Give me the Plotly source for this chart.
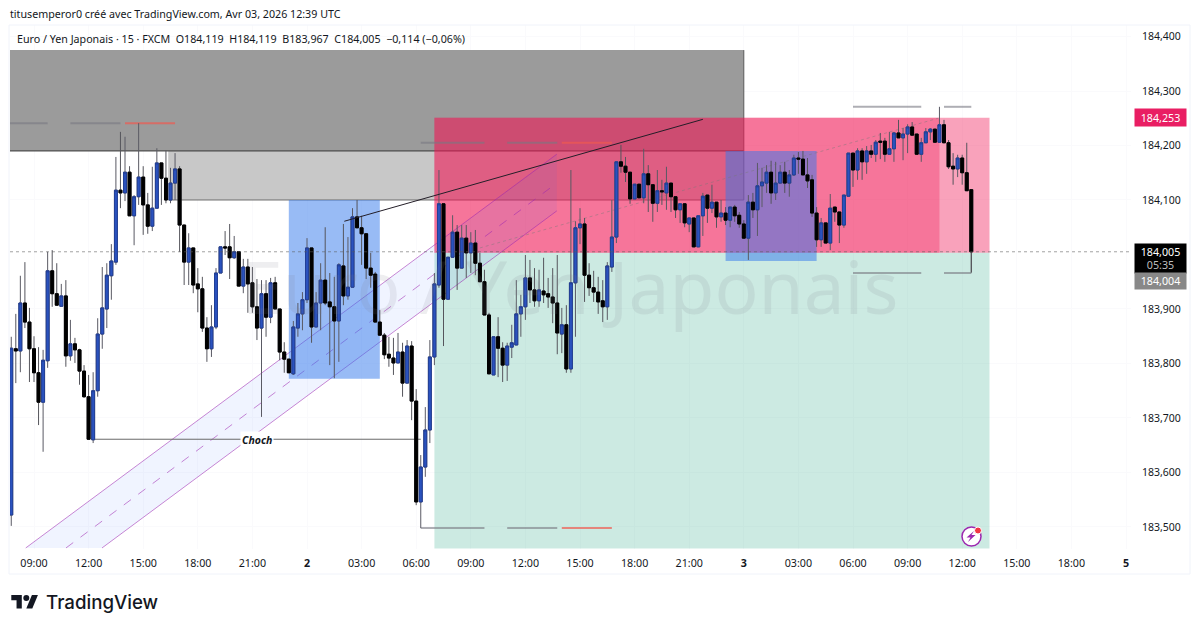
import plotly.graph_objects as go

# bar numbers: 0 is the 09:00 bar of the first day, one bar = 15 min
bars = list(range(-5, 207))

opens = [
    183.522, 183.827, 183.823, 183.911, 183.876,
    183.827, 183.783, 183.729, 183.805, 183.970, 183.928, 183.905, 183.924, 183.814, 183.836,
    183.825, 183.786, 183.739, 183.660, 183.750, 183.854, 183.900, 183.961, 183.986, 184.118,
    184.113, 184.151, 184.071, 184.106, 184.142, 184.091, 184.052, 184.085, 184.168, 184.140,
    184.100, 184.131, 184.157, 184.054, 183.986, 184.012, 183.946, 183.937, 183.865, 183.827,
    183.867, 183.966, 184.014, 184.014, 183.994, 184.005, 183.942, 183.977, 183.948, 183.904,
    183.865, 183.928, 183.885, 183.948, 183.900, 183.821, 183.808, 183.781, 183.865, 183.891,
    183.917, 184.012, 183.867, 183.911, 183.953, 183.913, 183.904, 183.878, 183.979, 183.924,
    183.940, 184.069, 184.049, 184.038, 183.975, 183.964, 183.876, 183.852, 183.817, 183.810,
    183.801, 183.821, 183.764, 183.832, 183.731, 183.546, 183.610, 183.678, 183.812, 183.944,
    184.093, 183.918, 183.995, 184.041, 183.975, 184.030, 184.003, 184.021, 183.984, 183.950,
    183.889, 183.779, 183.849, 183.828, 183.797, 183.830, 183.834, 183.891, 183.904, 183.957,
    183.935, 183.915, 183.933, 183.928, 183.922, 183.911, 183.854, 183.871, 183.790, 183.948,
    184.049, 184.056, 183.962, 183.939, 183.931, 183.915, 183.904, 183.977, 184.032, 184.170,
    184.162, 184.151, 184.102, 184.129, 184.104, 184.148, 184.128, 184.094, 184.117, 184.113,
    184.131, 184.106, 184.082, 184.093, 184.056, 184.067, 184.014, 184.071, 184.109, 184.085,
    184.096, 184.069, 184.076, 184.063, 184.087, 184.072, 184.056, 184.030, 184.096, 184.082,
    184.126, 184.131, 184.151, 184.113, 184.131, 184.151, 184.131, 184.146, 184.177, 184.175,
    184.146, 184.137, 184.076, 184.027, 184.058, 184.021, 184.087, 184.078, 184.054, 184.107,
    184.186, 184.155, 184.190, 184.170, 184.190, 184.184, 184.208, 184.208, 184.184, 184.194,
    184.223, 184.214, 184.221, 184.234, 184.221, 184.184, 184.205, 184.225, 184.230, 184.206,
    184.238, 184.205, 184.162, 184.157, 184.177, 184.150, 184.119,
]
highs = [
    183.849, 183.891, 183.961, 183.986, 183.902,
    183.850, 183.830, 183.825, 184.005, 184.008, 183.984, 183.946, 183.953, 183.880, 183.847,
    183.827, 183.797, 183.779, 183.784, 183.883, 183.977, 183.984, 184.019, 184.179, 184.225,
    184.216, 184.162, 184.109, 184.241, 184.162, 184.113, 184.161, 184.195, 184.168, 184.190,
    184.159, 184.186, 184.162, 184.054, 184.039, 184.012, 183.975, 183.959, 183.885, 183.907,
    183.975, 184.014, 184.043, 184.056, 184.034, 184.005, 183.992, 183.992, 183.977, 183.955,
    183.953, 183.953, 183.957, 183.959, 183.900, 183.839, 183.808, 183.878, 183.911, 183.931,
    184.030, 184.012, 183.931, 183.984, 184.050, 183.966, 183.959, 183.984, 184.056, 184.032,
    184.085, 184.100, 184.071, 184.039, 184.003, 183.968, 183.898, 183.856, 183.849, 183.847,
    183.856, 183.838, 183.843, 183.841, 183.753, 183.632, 183.720, 183.843, 183.966, 184.155,
    184.093, 183.995, 184.072, 184.054, 184.054, 184.054, 184.041, 184.045, 184.003, 183.972,
    183.893, 183.849, 183.885, 183.839, 183.838, 183.871, 183.953, 183.926, 183.999, 183.990,
    183.975, 183.972, 183.994, 183.957, 183.975, 183.999, 183.902, 183.907, 184.155, 184.061,
    184.085, 184.067, 183.984, 183.970, 183.959, 183.953, 183.986, 184.100, 184.170, 184.201,
    184.179, 184.151, 184.129, 184.129, 184.194, 184.164, 184.128, 184.155, 184.137, 184.161,
    184.131, 184.107, 184.093, 184.093, 184.067, 184.067, 184.071, 184.113, 184.109, 184.128,
    184.096, 184.100, 184.087, 184.087, 184.091, 184.078, 184.063, 184.109, 184.113, 184.168,
    184.159, 184.164, 184.172, 184.170, 184.164, 184.170, 184.155, 184.183, 184.188, 184.190,
    184.177, 184.146, 184.087, 184.067, 184.058, 184.111, 184.087, 184.078, 184.109, 184.186,
    184.186, 184.195, 184.195, 184.199, 184.201, 184.210, 184.223, 184.214, 184.225, 184.225,
    184.247, 184.232, 184.239, 184.243, 184.221, 184.214, 184.232, 184.232, 184.230, 184.271,
    184.247, 184.210, 184.186, 184.183, 184.183, 184.205, 184.119,
]
lows = [
    183.502, 183.764, 183.784, 183.865, 183.766,
    183.766, 183.687, 183.638, 183.792, 183.904, 183.907, 183.905, 183.794, 183.805, 183.801,
    183.761, 183.737, 183.660, 183.654, 183.739, 183.827, 183.865, 183.917, 183.981, 184.085,
    184.098, 184.071, 184.017, 184.091, 184.036, 184.038, 184.043, 184.085, 184.091, 184.094,
    184.094, 184.100, 184.005, 183.944, 183.944, 183.929, 183.894, 183.858, 183.803, 183.812,
    183.863, 183.966, 183.999, 183.955, 183.992, 183.942, 183.929, 183.893, 183.893, 183.843,
    183.702, 183.849, 183.874, 183.900, 183.806, 183.783, 183.783, 183.779, 183.849, 183.861,
    183.911, 183.838, 183.867, 183.861, 183.907, 183.797, 183.773, 183.803, 183.907, 183.917,
    183.940, 184.049, 183.981, 183.955, 183.939, 183.876, 183.852, 183.808, 183.794, 183.779,
    183.801, 183.739, 183.764, 183.696, 183.540, 183.498, 183.592, 183.654, 183.797, 183.939,
    183.832, 183.918, 183.995, 183.935, 183.975, 183.957, 183.966, 183.962, 183.950, 183.889,
    183.781, 183.779, 183.775, 183.766, 183.768, 183.810, 183.834, 183.849, 183.880, 183.911,
    183.904, 183.904, 183.911, 183.902, 183.874, 183.817, 183.819, 183.783, 183.783, 183.849,
    184.019, 183.913, 183.924, 183.913, 183.891, 183.876, 183.880, 183.968, 184.021, 184.150,
    184.133, 184.093, 184.102, 184.104, 184.094, 184.078, 184.060, 184.078, 184.091, 184.082,
    184.078, 184.067, 184.058, 184.050, 184.041, 184.014, 184.014, 184.034, 184.058, 184.076,
    184.049, 184.060, 184.054, 184.050, 184.060, 184.049, 184.030, 183.990, 184.067, 184.034,
    184.087, 184.113, 184.093, 184.100, 184.131, 184.113, 184.106, 184.144, 184.148, 184.146,
    184.122, 184.069, 184.014, 184.014, 184.021, 184.008, 184.060, 184.021, 184.049, 184.107,
    184.124, 184.137, 184.137, 184.148, 184.177, 184.170, 184.175, 184.170, 184.184, 184.170,
    184.214, 184.173, 184.186, 184.219, 184.184, 184.170, 184.205, 184.210, 184.206, 184.206,
    184.205, 184.157, 184.128, 184.142, 184.128, 184.117, 183.967,
]
closes = [
    183.828, 183.823, 183.911, 183.876, 183.827,
    183.783, 183.729, 183.806, 183.970, 183.928, 183.907, 183.924, 183.814, 183.836, 183.825,
    183.786, 183.739, 183.661, 183.750, 183.854, 183.902, 183.962, 183.988, 184.118, 184.113,
    184.151, 184.071, 184.106, 184.142, 184.091, 184.052, 184.085, 184.168, 184.140, 184.100,
    184.131, 184.157, 184.054, 183.986, 184.012, 183.944, 183.937, 183.865, 183.827, 183.867,
    183.966, 184.014, 184.012, 183.994, 184.005, 183.942, 183.977, 183.946, 183.904, 183.865,
    183.928, 183.885, 183.948, 183.900, 183.821, 183.808, 183.783, 183.867, 183.891, 183.917,
    184.012, 183.867, 183.911, 183.953, 183.911, 183.904, 183.878, 183.981, 183.924, 183.940,
    184.069, 184.049, 184.038, 183.975, 183.962, 183.876, 183.852, 183.816, 183.810, 183.801,
    183.821, 183.764, 183.832, 183.731, 183.546, 183.610, 183.678, 183.812, 183.946, 184.093,
    183.918, 183.995, 184.041, 183.975, 184.030, 184.003, 184.021, 183.984, 183.950, 183.889,
    183.781, 183.849, 183.828, 183.797, 183.832, 183.838, 183.891, 183.904, 183.957, 183.935,
    183.915, 183.935, 183.926, 183.922, 183.911, 183.856, 183.871, 183.790, 183.948, 184.049,
    184.056, 183.962, 183.939, 183.931, 183.913, 183.904, 183.979, 184.032, 184.170, 184.162,
    184.151, 184.102, 184.129, 184.104, 184.148, 184.128, 184.094, 184.117, 184.115, 184.131,
    184.106, 184.082, 184.093, 184.058, 184.067, 184.014, 184.071, 184.107, 184.085, 184.096,
    184.069, 184.076, 184.063, 184.087, 184.071, 184.056, 184.030, 184.096, 184.082, 184.126,
    184.133, 184.151, 184.113, 184.131, 184.151, 184.131, 184.146, 184.177, 184.175, 184.146,
    184.135, 184.076, 184.027, 184.058, 184.021, 184.085, 184.078, 184.054, 184.109, 184.186,
    184.155, 184.190, 184.170, 184.190, 184.184, 184.206, 184.206, 184.184, 184.194, 184.223,
    184.214, 184.221, 184.234, 184.219, 184.184, 184.205, 184.225, 184.230, 184.206, 184.238,
    184.205, 184.161, 184.157, 184.177, 184.150, 184.117, 184.005,
]

time_ticks = list(range(0, 241, 12))
time_labels = ["09:00", "12:00", "15:00", "18:00", "21:00", "<b>2</b>", "03:00", "06:00",
               "09:00", "12:00", "15:00", "18:00", "21:00", "<b>3</b>", "03:00", "06:00",
               "09:00", "12:00", "15:00", "18:00", "<b>5</b>"]
price_ticks = [183.5, 183.6, 183.7, 183.8, 183.9, 184.1, 184.2, 184.3, 184.4]

# drawings, in bars and prices
x_min, x_max = -5.275, 241.1
y_min, y_max = 183.4596, 184.4211
supply_top, supply_mid, supply_low = 184.375, 184.190, 184.100
supply_right, light_left = 156, 29.5
pos_left, pos_split, pos_right = 88, 199, 210
pos_stop, pos_entry = 184.251, 184.003
ob1 = [56, 76, 183.772, 184.100]
ob2 = [152, 172, 183.988, 184.190]
chan_upper = [-1.82, 183.4615, 114.9, 184.184]
chan_mid = [7.03, 183.4615, 114.9, 184.131]
chan_lower = [14.95, 183.4615, 114.9, 184.080]
trend = [68.2, 184.061, 147, 184.248]
drift = [98, 184.012, 198.7, 184.250]
choch = [13, 85, 183.661]
last_price = 184.005
gray_marks = [[-5.275, 3, 184.241], [8, 19, 184.241], [85, 99, 184.205], [104, 115, 184.205],
              [85, 99, 183.498], [104, 115, 183.498], [180, 195, 184.271], [200, 206, 184.271],
              [180, 195, 183.966], [200, 206, 183.966]]
red_marks = [[20, 31, 184.241], [116, 127, 184.205], [116, 127, 183.498]]

# the page has an 8px body margin, so the figure is 1184x614 and sits at (8, 8)
W, H = 1184, 614
L, R, T, B = 2, 61, 17, 73


# pixel position on the page -> paper coords, for the things outside the price pane
def px(v):
    return (v - 10) / 1121


def py(v):
    return (549 - v) / 524


def poly(points):
    return "M" + "L".join(f"{px(a)},{py(b)}" for a, b in points) + "Z"


fig = go.Figure()

# wicks first, then the bodies on their own so they keep a clean colour
fig.add_trace(go.Candlestick(
    x=bars, open=opens, high=highs, low=lows, close=closes,
    increasing=dict(fillcolor="#2a52be", line=dict(color="#5a5a64", width=1)),
    decreasing=dict(fillcolor="#000000", line=dict(color="#55555c", width=1)),
    whiskerwidth=0,
    hoverinfo="skip",
))
body_top = [max(o, c) for o, c in zip(opens, closes)]
body_low = [min(o, c) for o, c in zip(opens, closes)]
fig.add_trace(go.Candlestick(
    x=bars, open=opens, high=body_top, low=body_low, close=closes,
    increasing=dict(fillcolor="#2a52be", line=dict(color="#223f96", width=1)),
    decreasing=dict(fillcolor="#000000", line=dict(color="#000000", width=1)),
    whiskerwidth=0,
    hoverinfo="skip",
))

shapes = []


def box(x0, x1, y0, y1, color, layer="between"):
    shapes.append(dict(type="rect", x0=x0, x1=x1, y0=y0, y1=y1, fillcolor=color,
                       line_width=0, layer=layer))


def seg(x0, y0, x1, y1, color, width=1, dash="solid", layer="between"):
    shapes.append(dict(type="line", x0=x0, y0=y0, x1=x1, y1=y1, layer=layer,
                       line=dict(color=color, width=width, dash=dash)))


# supply boxes
box(x_min, supply_right, supply_mid, supply_top, "rgb(155,155,155)")
box(light_left, supply_right, supply_low, supply_mid, "rgb(200,200,200)")
seg(x_min, supply_mid, supply_right, supply_mid, "rgb(55,55,55)")
seg(light_left, supply_low, supply_right, supply_low, "rgb(110,110,110)")
seg(supply_right, supply_low, supply_right, supply_top, "rgb(90,90,90)")

# position tool
box(pos_left, pos_right, pos_entry, pos_stop, "rgba(240,23,85,0.40)")
box(pos_left, pos_split, pos_entry, pos_stop, "rgba(240,23,85,0.32)")
box(pos_left, pos_right, y_min + 0.001, pos_entry, "rgba(0,150,110,0.20)")

# channel
shapes.append(dict(type="path", layer="between", line_width=0, fillcolor="rgba(41,98,255,0.07)",
                   path=f"M{chan_upper[0]},{chan_upper[1]}L{chan_upper[2]},{chan_upper[3]}"
                        f"L{chan_lower[2]},{chan_lower[3]}L{chan_lower[0]},{chan_lower[1]}Z"))
for c, d in ((chan_upper, "solid"), (chan_mid, "dash"), (chan_lower, "solid")):
    seg(c[0], c[1], c[2], c[3], "rgba(156,39,176,0.55)", 1, d)

# order blocks
box(ob1[0], ob1[1], ob1[2], ob1[3], "rgba(50,120,235,0.50)")
box(ob2[0], ob2[1], ob2[2], ob2[3], "rgba(50,120,235,0.50)")

seg(drift[0], drift[1], drift[2], drift[3], "rgba(120,120,120,0.45)", 1, "dot")
seg(trend[0], trend[1], trend[2], trend[3], "rgb(35,30,40)", 1, layer="above")
seg(choch[0], choch[2], choch[1], choch[2], "rgb(105,105,105)", 1)
for m in gray_marks:
    seg(m[0], m[2], m[1], m[2], "rgba(120,120,130,0.60)", 2)
for m in red_marks:
    seg(m[0], m[2], m[1], m[2], "rgba(240,90,80,0.70)", 2)
seg(bars[-1], lows[-1], bars[-1], closes[-1], "rgb(70,70,70)", 1)
seg(x_min, last_price, x_max, last_price, "rgba(90,90,90,0.8)", 0.7, "dot", "above")

# frame around the snapshot
shapes.append(dict(type="rect", xref="paper", yref="paper", x0=px(9), x1=px(1190), y0=py(574), y1=py(25),
                   line=dict(color="rgb(240,243,250)", width=1), fillcolor="rgba(0,0,0,0)"))

# logo
u = 0.75
ox, oy = 11.3, 592
logo_t = [(0, 4), (14, 4), (14, 22), (7, 22), (7, 11), (0, 11)]
logo_v = [(27.5, 4), (35.5, 4), (28, 22), (20, 22)]
for part in (logo_t, logo_v):
    shapes.append(dict(type="path", xref="paper", yref="paper", fillcolor="#131722", line_width=0,
                       path=poly([(ox + a * u, oy + b * u) for a, b in part])))
shapes.append(dict(type="circle", xref="paper", yref="paper", fillcolor="#131722", line_width=0,
                   x0=px(ox + 16 * u), x1=px(ox + 24 * u), y0=py(oy + 12 * u), y1=py(oy + 4 * u)))

# little alert badge
shapes.append(dict(type="circle", xref="paper", yref="paper", fillcolor="white",
                   line=dict(color="#9c27b0", width=1.5),
                   x0=px(962), x1=px(981), y0=py(546), y1=py(527)))
shapes.append(dict(type="path", xref="paper", yref="paper", fillcolor="#9c27b0", line_width=0,
                   path=poly([(974, 531), (966.5, 537.5), (970.5, 537.5), (968, 542), (975.5, 535), (971.5, 535)])))
shapes.append(dict(type="circle", xref="paper", yref="paper", fillcolor="#f23645",
                   line=dict(color="white", width=1),
                   x0=px(974.5), x1=px(981.5), y0=py(534), y1=py(527)))

dark = "#131722"
ann = []


def label(x, y, text, size, color=dark, family="Noto Sans", anchor="left", **kw):
    ann.append(dict(xref="paper", yref="paper", x=px(x), y=py(y), text=text, showarrow=False,
                    xanchor=anchor, yanchor="middle", font=dict(family=family, size=size, color=color), **kw))


label(570, 285, "Euro / Yen Japonais", 73, "rgba(120,125,140,0.13)", anchor="center")
label(8, 14, "titusemperor0 créé avec TradingView.com, Avr 03, 2026 12:39 UTC", 10.7)
label(15, 39, "Euro / Yen Japonais · 15 · FXCM\u00a0\u00a0O184,119\u00a0\u00a0H184,119\u00a0\u00a0B183,967"
              "\u00a0\u00a0C184,005\u00a0\u00a0−0,114 (−0,06%)", 10.7)
label(257, 439.5, "<b><i>Choch</i></b>", 10.5, bgcolor="white", anchor="center")
label(44, 602, "TradingView", 18.7, family="Inter")
ann[-1]["font"]["weight"] = 500

# price tags
label(1134, 117.5, "184,253", 10.7, "white", bgcolor="#e91e63", width=51, height=17, align="center", borderpad=0)
label(1134, 258.5, "184,005<br><span style='color:#bdbdbd'>05:35</span>", 10.7, "white", bgcolor="#000000",
      width=51, height=29, align="center", borderpad=0)
label(1134, 281, "184,004", 10.7, "white", bgcolor="#888888", width=51, height=16, align="center", borderpad=0)

fig.update_layout(
    width=W, height=H,
    margin=dict(l=L, r=R, t=T, b=B),
    paper_bgcolor="white", plot_bgcolor="white",
    showlegend=False,
    separators=", ",
    boxgap=0.08,
    shapes=shapes,
    annotations=ann,
    font=dict(family="Noto Sans", size=11, color=dark),
)
fig.update_xaxes(
    range=[x_min, x_max], rangeslider_visible=False,
    tickmode="array", tickvals=time_ticks, ticktext=time_labels,
    ticks="", showline=False, zeroline=False,
    gridcolor="rgb(250,250,252)", gridwidth=1,
    tickfont=dict(size=10.7, color=dark),
    ticklabelstandoff=6,
)
fig.update_yaxes(
    side="right", range=[y_min, y_max],
    tickmode="array", tickvals=price_ticks, tickformat=".3f",
    ticks="", showline=False, zeroline=False,
    gridcolor="rgb(250,250,252)", gridwidth=1,
    tickfont=dict(size=10.5, color=dark),
    ticklabelstandoff=10,
)

fig.write_html("out.html")
